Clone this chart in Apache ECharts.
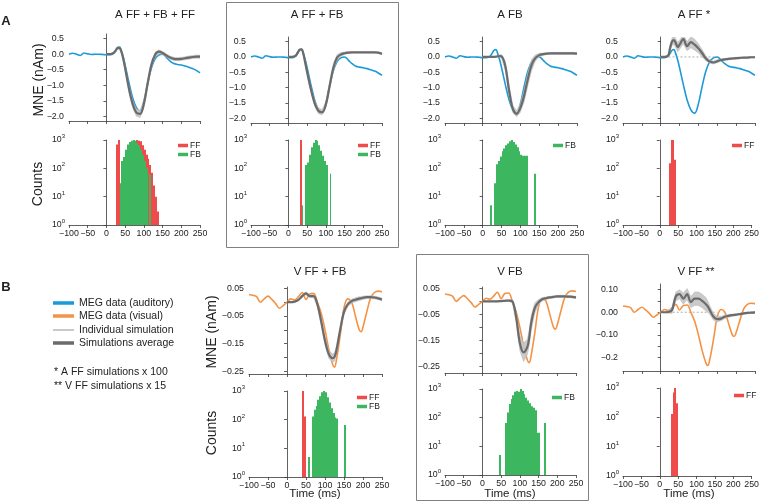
<!DOCTYPE html>
<html><head><meta charset="utf-8">
<script src="https://cdn.jsdelivr.net/npm/echarts@6/dist/echarts.min.js"></script>
<style>html,body{margin:0;padding:0;background:#fff}#c{width:762px;height:503px}</style>
</head><body><div id="c"></div>
<script>
// ---------------- DATA ----------------
// time samples (ms)
const tTop = [-100,-90,-80,-70,-60,-50,-40,-30,-20,-10,0,10,20,25,30,35,40,45,50,60,70,80,90,100,110,120,130,140,150,160,170,180,190,200,210,220,230,240,250];
const megAud = [0.00,0.03,0.00,-0.04,0.04,0.01,-0.01,0.00,0.00,-0.01,-0.02,-0.02,0.03,0.12,0.22,0.24,0.10,-0.10,-0.35,-0.90,-1.40,-1.72,-1.83,-1.52,-0.95,-0.45,-0.15,-0.03,0.00,-0.10,-0.22,-0.30,-0.33,-0.35,-0.38,-0.42,-0.46,-0.52,-0.60];
const tSimA = [0,10,20,25,30,35,40,45,50,60,70,80,90,100,110,120,130,140,150,160,170,180,190,200,210,220,230,240,250];
const simAvgA1 = [0.00,0.00,0.05,0.12,0.20,0.20,0.08,-0.15,-0.45,-1.10,-1.60,-1.88,-1.92,-1.60,-0.95,-0.35,-0.02,0.08,0.04,-0.04,-0.11,-0.15,-0.16,-0.15,-0.13,-0.11,-0.09,-0.08,-0.08];
const simSprA1 = [0.01,0.01,0.03,0.04,0.05,0.05,0.06,0.08,0.10,0.12,0.12,0.12,0.12,0.12,0.12,0.10,0.08,0.06,0.05,0.05,0.05,0.05,0.05,0.05,0.05,0.05,0.05,0.05,0.05];
const simAvgA2 = [0.00,0.00,0.05,0.15,0.24,0.25,0.10,-0.20,-0.50,-1.05,-1.50,-1.75,-1.80,-1.55,-0.95,-0.35,-0.02,0.08,0.12,0.14,0.15,0.15,0.15,0.15,0.15,0.15,0.15,0.14,0.10];
const simSprA2 = [0.01,0.01,0.02,0.03,0.03,0.03,0.05,0.07,0.08,0.10,0.10,0.10,0.08,0.10,0.12,0.12,0.10,0.06,0.04,0.03,0.02,0.02,0.02,0.02,0.02,0.02,0.02,0.02,0.02];
const simAvgA3 = [0.00,0.00,0.00,0.00,0.00,0.01,0.02,0.03,0.02,-0.30,-1.10,-1.70,-1.85,-1.65,-1.25,-0.70,-0.25,-0.03,0.06,0.09,0.11,0.12,0.12,0.12,0.12,0.12,0.12,0.12,0.11];
const simSprA3 = [0.01,0.01,0.01,0.01,0.01,0.02,0.03,0.04,0.06,0.15,0.20,0.12,0.10,0.15,0.20,0.22,0.18,0.10,0.06,0.04,0.03,0.03,0.03,0.03,0.03,0.03,0.03,0.03,0.03];
const simAvgA4 = [0.00,0.00,0.05,0.30,0.50,0.55,0.45,0.32,0.40,0.58,0.35,0.48,0.40,0.28,0.12,-0.05,-0.15,-0.18,-0.14,-0.10,-0.08,-0.06,-0.05,-0.04,-0.03,-0.02,-0.02,-0.01,-0.01];
const simSprA4 = [0.01,0.01,0.03,0.10,0.12,0.15,0.15,0.15,0.15,0.15,0.15,0.18,0.18,0.15,0.12,0.08,0.05,0.05,0.05,0.04,0.03,0.03,0.03,0.03,0.02,0.02,0.02,0.02,0.02];
const zeroSpanA4 = [10,150];

const tBot = [-100,-90,-80,-70,-60,-50,-40,-30,-20,-10,0,10,20,30,40,50,60,70,80,90,100,110,120,125,130,140,150,160,170,180,190,195,200,210,220,230,240,250];
const megVis = [0.028,0.025,0.02,0.0,0.012,0.022,0.01,-0.005,-0.022,-0.012,0.0,0.012,0.008,0.02,0.035,0.01,0.03,0.032,0.0,-0.04,-0.10,-0.17,-0.225,-0.235,-0.21,-0.12,-0.02,0.012,0.0,-0.05,-0.10,-0.107,-0.09,-0.035,0.015,0.035,0.04,0.038];
const tSimB = [0,10,20,30,40,50,60,70,80,90,100,110,120,125,130,140,150,160,170,180,190,195,200,210,220,230,240,250];
const simAvgB1 = [0.0,0.0,0.002,0.008,0.022,0.032,0.022,0.022,-0.008,-0.07,-0.14,-0.188,-0.203,-0.198,-0.175,-0.10,-0.035,-0.008,0.004,0.009,0.013,0.014,0.016,0.018,0.018,0.017,0.014,0.01];
const simSprB1 = [0.001,0.002,0.003,0.004,0.005,0.005,0.005,0.006,0.008,0.012,0.015,0.015,0.015,0.015,0.015,0.014,0.01,0.008,0.007,0.007,0.007,0.006,0.006,0.005,0.005,0.005,0.005,0.005];
const simAvgB2 = [0,0,0,0,0,0.001,0.002,0.003,0.0,-0.06,-0.16,-0.196,-0.175,-0.14,-0.085,-0.025,-0.003,0.008,0.012,0.015,0.017,0.018,0.019,0.019,0.019,0.018,0.017,0.015];
const simSprB2 = [0.001,0.001,0.001,0.001,0.002,0.002,0.002,0.003,0.006,0.02,0.03,0.035,0.03,0.03,0.03,0.02,0.01,0.006,0.005,0.004,0.004,0.004,0.004,0.004,0.004,0.004,0.004,0.004];
const simAvgB3 = [0.0,0.0,0.001,0.01,0.07,0.08,0.06,0.08,0.045,0.06,0.06,0.05,0.035,0.025,0.01,-0.02,-0.03,-0.028,-0.02,-0.016,-0.013,-0.012,-0.011,-0.008,-0.005,-0.003,-0.002,-0.001];
const simSprB3 = [0.001,0.002,0.005,0.015,0.02,0.02,0.025,0.025,0.025,0.03,0.03,0.03,0.03,0.025,0.02,0.015,0.012,0.01,0.008,0.006,0.005,0.005,0.005,0.004,0.004,0.004,0.004,0.004];
const zeroSpanB3 = [0,150];

// histograms: [bin centre (ms), count], 5 ms bins
const binWidth = 5;
const histA1FF = [[27.5,700],[32.5,1000],[42.5,20],[47.5,60],[52.5,150],[57.5,250],[62.5,400],[67.5,500],[72.5,650],[77.5,800],[82.5,1000],[87.5,950],[92.5,900],[97.5,650],[102.5,450],[107.5,300],[112.5,220],[117.5,130],[122.5,70],[127.5,25],[132.5,10],[137.5,3]];
const histA1FB = [[37.5,30],[42.5,180],[47.5,250],[52.5,450],[57.5,700],[62.5,850],[67.5,950],[72.5,1000],[77.5,950],[82.5,800],[87.5,650],[92.5,450],[97.5,300],[102.5,180],[107.5,100],[117.5,60]];
const histA2FF = [[32.5,1000]];
const histA2FB = [[37.5,5],[47.5,130],[52.5,160],[57.5,300],[62.5,550],[67.5,800],[72.5,1000],[77.5,950],[82.5,650],[87.5,420],[92.5,280],[97.5,180],[102.5,130],[112.5,65]];
const histA3FB = [[22.5,5],[32.5,30],[37.5,140],[42.5,180],[47.5,260],[52.5,400],[57.5,500],[62.5,650],[67.5,750],[72.5,900],[77.5,1000],[82.5,850],[87.5,700],[92.5,550],[97.5,400],[102.5,300],[107.5,280],[112.5,280],[117.5,280],[137.5,65]];
const histA4FF = [[27.5,150],[32.5,1000],[37.5,1000],[42.5,200]];
const histB1FF = [[42.5,1000],[47.5,130]];
const histB1FB = [[57.5,5],[67.5,130],[72.5,220],[77.5,300],[82.5,500],[87.5,650],[92.5,900],[97.5,1000],[102.5,900],[107.5,600],[112.5,400],[117.5,250],[122.5,170],[127.5,120],[132.5,110],[152.5,65]];
const histB2FB = [[47.5,5],[62.5,65],[67.5,150],[72.5,300],[77.5,450],[82.5,600],[87.5,800],[92.5,850],[97.5,800],[102.5,1000],[107.5,850],[112.5,650],[117.5,500],[122.5,400],[127.5,320],[132.5,250],[137.5,220],[142.5,180],[147.5,30],[152.5,30],[167.5,65]];
const histB3FF = [[32.5,130],[37.5,700],[42.5,1000],[47.5,300]];

// tick values
const yTicksA = [0.5,0,-0.5,-1,-1.5,-2];
const yLabB12 = [0.05,-0.05,-0.15,-0.25];
const yTickB12 = [0.05,0,-0.05,-0.1,-0.15,-0.2,-0.25];
const yLabB3 = [0.1,0,-0.1,-0.2];
const yTickB3 = [0.1,0.05,0,-0.05,-0.1,-0.15,-0.2];

const titlesA = ['A FF + FB + FF','A FF + FB','A FB','A FF *'];
const titlesB = ['V FF + FB','V FB','V FF **'];

// ---------------- STYLE / LAYOUT ----------------
const FONT = '"Liberation Sans", Arial, Helvetica, sans-serif';
const C = {blue:'#1b9ad8', orange:'#f49346', red:'#ef4b4b', green:'#3db660', avg:'#6b6b6b', ind:'#bdbdbd', axis:'#3a3a3a', text:'#222'};
const minus = s => String(s).replace('-', '\u2212');
const fmtA = v => minus(v.toFixed(1));
const fmtB12 = v => minus(v.toFixed(2));
const fmtB3 = v => Math.abs(v + 0.2) < 1e-9 ? '\u22120.2' : minus(v.toFixed(2));
const fmtT = v => minus(v);

const panels = [
 {meg:megAud, megT:tTop, megName:'MEG data (auditory)', megColor:C.blue, simT:tSimA, avg:simAvgA1, spr:simSprA1, y:[-2.15,0.65], yl:yTicksA, yt:yTicksA, fmt:fmtA, line:[69,34,131,87], hist:[69,140,131,85], bars:[['FF',histA1FF,C.red],['FB',histA1FB,C.green]], leg:[178,141]},
 {meg:megAud, megT:tTop, megName:'MEG data (auditory)', megColor:C.blue, simT:tSimA, avg:simAvgA2, spr:simSprA2, y:[-2.15,0.65], yl:yTicksA, yt:yTicksA, fmt:fmtA, line:[251,37,131,86], hist:[251,140,131,85], bars:[['FF',histA2FF,C.red],['FB',histA2FB,C.green]], leg:[358,141]},
 {meg:megAud, megT:tTop, megName:'MEG data (auditory)', megColor:C.blue, simT:tSimA, avg:simAvgA3, spr:simSprA3, y:[-2.15,0.65], yl:yTicksA, yt:yTicksA, fmt:fmtA, line:[445,37,132,86], hist:[445,140,132,85], bars:[['FB',histA3FB,C.green]], leg:[553,141]},
 {meg:megAud, megT:tTop, megName:'MEG data (auditory)', megColor:C.blue, simT:tSimA, avg:simAvgA4, spr:simSprA4, y:[-2.15,0.65], yl:yTicksA, yt:yTicksA, fmt:fmtA, line:[623,37,132,86], hist:[623,140,132,85], bars:[['FF',histA4FF,C.red]], leg:[732,141], zero:zeroSpanA4},
 {meg:megVis, megT:tBot, megName:'MEG data (visual)', megColor:C.orange, simT:tSimB, avg:simAvgB1, spr:simSprB1, y:[-0.26,0.055], yl:yLabB12, yt:yTickB12, fmt:fmtB12, line:[249,287,133,87], hist:[249,391,133,86], bars:[['FF',histB1FF,C.red],['FB',histB1FB,C.green]], leg:[357,393]},
 {meg:megVis, megT:tBot, megName:'MEG data (visual)', megColor:C.orange, simT:tSimB, avg:simAvgB2, spr:simSprB2, y:[-0.275,0.055], yl:yLabB12, yt:yTickB12, fmt:fmtB12, line:[445,287,131,86], hist:[445,389,131,86], bars:[['FB',histB2FB,C.green]], leg:[552,393]},
 {meg:megVis, megT:tBot, megName:'MEG data (visual)', megColor:C.orange, simT:tSimB, avg:simAvgB3, spr:simSprB3, y:[-0.26,0.125], yl:yLabB3, yt:yTickB3, fmt:fmtB3, line:[623,284,132,87], hist:[623,388,132,88], bars:[['FF',histB3FF,C.red]], leg:[734,391], zero:zeroSpanB3}
];

const grid = [], xAxis = [], yAxis = [], series = [], legend = [];
const axisLineStyle = {lineStyle:{color:C.axis, width:0.8}};
const labelStyle = {fontFamily:FONT, fontSize:8.8, color:C.text};

function timeAxis(gi, showLabels){
  return {type:'value', gridIndex:gi, min:-100, max:250, interval:50,
    axisLine:{show:true, onZero:false, ...axisLineStyle},
    axisTick:{show:true, length:3, lineStyle:{color:C.axis, width:0.8}},
    axisLabel:{show:showLabels, margin:4, formatter:fmtT, ...labelStyle},
    splitLine:{show:false}};
}

// band of individual simulations: polygon through the axes' scales
function bandRender(points) {
  return function (params, api) {
    if (params.dataIndex !== 0) return null;
    const upper = points.map(d => api.coord([d[0], d[2]]));
    const lower = points.map(d => api.coord([d[0], d[1]])).reverse();
    return {type:'polygon', shape:{points: upper.concat(lower)},
      style:{fill:'#c4c4c4', stroke:'#b4b4b4', lineWidth:0.5, opacity:0.9}};
  };
}
// histogram bin: rectangle from count down to 10^0, snapped to whole pixels
function binRender(color) {
  return function (params, api) {
    const c = api.value(0), n = api.value(1);
    const pTop = api.coord([c - binWidth / 2, n]);
    const pBot = api.coord([c + binWidth / 2, 1]);
    const x0 = Math.round(pTop[0]);
    let x1 = Math.round(pBot[0]);
    if (x1 <= x0) x1 = x0 + 1;
    return {type:'rect', shape:{x:x0, y:pTop[1], width:x1 - x0, height:pBot[1] - pTop[1]},
      style:{fill:color}};
  };
}

panels.forEach((p, k) => {
  const gL = grid.length;
  grid.push({left:p.line[0], top:p.line[1], width:p.line[2], height:p.line[3]});
  xAxis.push(timeAxis(gL, false));
  yAxis.push({type:'value', gridIndex:gL, min:p.y[0], max:p.y[1],
    axisLine:{show:true, ...axisLineStyle},
    axisTick:{show:true, length:3, customValues:p.yt, lineStyle:{color:C.axis, width:0.8}},
    axisLabel:{show:true, margin:5, customValues:p.yl, formatter:p.fmt, ...labelStyle},
    splitLine:{show:false}});
  const ax = {xAxisIndex:gL, yAxisIndex:gL};
  series.push({type:'line', name:p.megName, ...ax, data:p.megT.map((t,i)=>[t,p.meg[i]]),
    smooth:0.35, symbol:'none', lineStyle:{color:p.megColor, width:1.6}, itemStyle:{color:p.megColor}, z:2});
  if (p.zero) {
    series.push({type:'line', name:'baseline', ...ax, data:p.zero.map(t=>[t,0]), symbol:'none',
      lineStyle:{color:'#9a9a9a', width:0.8, type:[2,2]}, z:3, silent:true});
  }
  const bandPts = p.simT.map((t,i)=>[t, p.avg[i]-p.spr[i], p.avg[i]+p.spr[i]]);
  series.push({type:'custom', name:'Individual simulation', ...ax, data:bandPts,
    encode:{x:0, y:[1,2]}, renderItem:bandRender(bandPts), clip:true, silent:true,
    itemStyle:{color:'#a5a5a5'}, z:4});
  series.push({type:'line', name:'Simulations average', ...ax, data:p.simT.map((t,i)=>[t,p.avg[i]]),
    smooth:0.35, symbol:'none', lineStyle:{color:C.avg, width:2.2}, itemStyle:{color:C.avg}, z:5});

  const gH = grid.length;
  grid.push({left:p.hist[0], top:p.hist[1], width:p.hist[2], height:p.hist[3]});
  xAxis.push(timeAxis(gH, true));
  yAxis.push({type:'log', logBase:10, gridIndex:gH, min:1, max:1000,
    axisLine:{show:true, ...axisLineStyle},
    axisTick:{show:true, length:3, lineStyle:{color:C.axis, width:0.8}},
    minorTick:{show:false},
    axisLabel:{show:true, margin:4,
      formatter: v => '{b|10}{s|' + Math.round(Math.log10(v)) + '}',
      rich:{b:{fontFamily:FONT, fontSize:8.8, color:C.text, verticalAlign:'middle'},
            s:{fontFamily:FONT, fontSize:6, color:C.text, padding:[0,0,7,0], verticalAlign:'middle'}}},
    splitLine:{show:false}});
  p.bars.forEach(([nm, d, col]) => {
    series.push({type:'custom', name:nm, xAxisIndex:gH, yAxisIndex:gH, data:d,
      encode:{x:0, y:1}, renderItem:binRender(col), clip:true, silent:true,
      itemStyle:{color:col}, z:2});
  });
  legend.push({left:p.leg[0], top:p.leg[1], orient:'vertical', itemGap:0, itemWidth:10, itemHeight:3.5,
    icon:'rect', selectedMode:false, padding:0,
    data:p.bars.map(b=>({name:b[0], itemStyle:{color:b[2]}})),
    textStyle:{fontFamily:FONT, fontSize:8.5, color:C.text, lineHeight:8, padding:[0,0,0,-3]}});
});

// main legend (panel B, left)
const mainLeg = [
  ['MEG data (auditory)', C.blue, 3.5, 297],
  ['MEG data (visual)', C.orange, 3.5, 310],
  ['Individual simulation', '#a5a5a5', 1.2, 324],
  ['Simulations average', C.avg, 3.5, 337]
];
mainLeg.forEach(([nm, col, h, top]) => {
  legend.push({left:53, top:top, itemWidth:21, itemHeight:h, icon:'rect', selectedMode:false, padding:0,
    data:[{name:nm, itemStyle:{color:col}}],
    textStyle:{fontFamily:FONT, fontSize:10.5, color:C.text, lineHeight:12}});
});

// text & frames
const txt = (x, y, s, size, bold) => ({type:'text', x, y, silent:true,
  style:{text:s, font:(bold ? 'bold ' : '') + size + 'px ' + FONT, fill:C.text, textAlign:'center', textVerticalAlign:'middle'}});
const rot = Math.PI / 2;
const graphic = [
  {type:'rect', silent:true, shape:{x:226.5, y:2.5, width:172, height:245}, style:{fill:'none', stroke:'#808080', lineWidth:1}},
  {type:'rect', silent:true, shape:{x:416.5, y:254.5, width:172, height:246}, style:{fill:'none', stroke:'#808080', lineWidth:1}},
  txt(6, 21, 'A', 13, true),
  txt(6, 287, 'B', 13, true),
  txt(155, 15, titlesA[0], 11.5), txt(317, 15, titlesA[1], 11.5), txt(510, 15, titlesA[2], 11.5), txt(694, 15, titlesA[3], 11.5),
  txt(320, 272, titlesB[0], 11.5), txt(510, 272, titlesB[1], 11.5), txt(696, 272, titlesB[2], 11.5),
  {...txt(39, 80, 'MNE (nAm)', 14), rotation:rot},
  {...txt(38, 184, 'Counts', 14), rotation:rot},
  {...txt(212, 332, 'MNE (nAm)', 14), rotation:rot},
  {...txt(212, 433, 'Counts', 14), rotation:rot},
  txt(315, 494, 'Time (ms)', 11.5), txt(510, 494, 'Time (ms)', 11.5), txt(689, 494, 'Time (ms)', 11.5),
  {type:'text', x:54, y:372, silent:true, style:{text:'* A FF simulations x 100', font:'10.5px ' + FONT, fill:C.text, textVerticalAlign:'middle'}},
  {type:'text', x:54, y:386, silent:true, style:{text:'** V FF simulations x 15', font:'10.5px ' + FONT, fill:C.text, textVerticalAlign:'middle'}}
];

const chart = echarts.init(document.getElementById('c'), null, {renderer:'canvas'});
chart.setOption({animation:false, backgroundColor:'#fff', textStyle:{fontFamily:FONT},
  grid, xAxis, yAxis, series, legend, graphic});
</script>
</body></html>
